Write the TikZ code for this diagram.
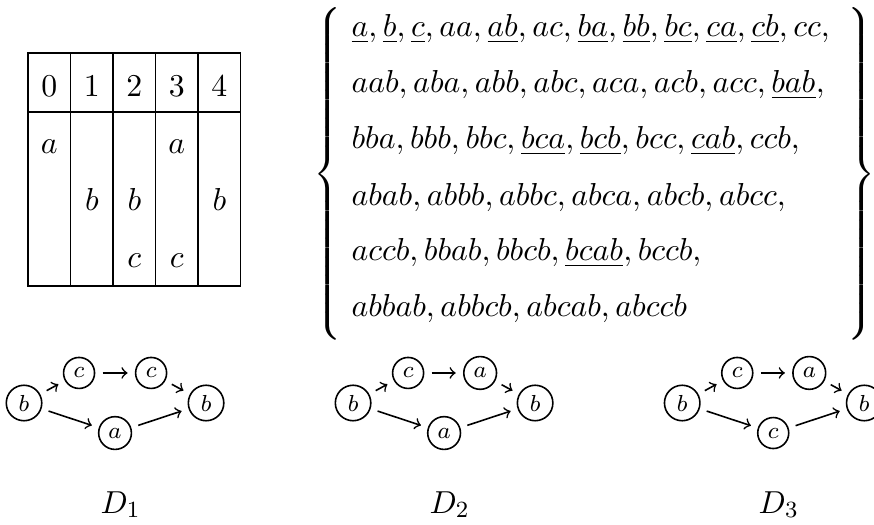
\documentclass[tikz,border=0pt]{standalone}
\usepackage{amsmath}
\thinmuskip=3.25mu

\tikzset{
  vert/.style={circle, draw, inner sep=2pt, font=\footnotesize},
  arc/.style={->, shorten >=2.5pt, shorten <=2.5pt},
  setline/.style={anchor=base west, inner sep=0pt},
  brace/.style={inner sep=0pt, yscale=0.97, transform shape},
}

\begin{document}
\begin{tikzpicture}[font=\fontsize{10.95}{13.6}\selectfont, line width=0.55pt]
  \useasboundingbox (0,0) rectangle (10.59,6.35);

  % positions table
  \draw (0.34,2.885) rectangle (2.915,5.71);
  \draw (0.34,4.99) -- (2.915,4.99);
  \foreach \i in {1,...,4}
    \draw (0.34+0.515*\i,2.885) -- (0.34+0.515*\i,5.71);
  \foreach \i in {0,...,4}
    \node[anchor=base] (h\i) at (0.5975+0.515*\i,5.175) {$\i$};
  \foreach \c/\r/\s in {0/1/a, 1/2/b, 2/2/b, 2/3/c, 3/1/a, 3/3/c, 4/2/b}
    \node[anchor=base] (e\c\r) at (0.5975+0.515*\c,5.175-0.69*\r) {$\s$};

  % the set of words
  \node[brace] (lbr) at (3.99,4.24)
    {$\left\{\vrule height 56pt depth 56pt width 0pt\right.$};
  \node[brace] (rbr) at (10.42,4.24)
    {$\left.\vrule height 56pt depth 56pt width 0pt\right\}$};
  \node[setline] (w1) at (4.25,5.902) {$\underline{a}, \underline{b}, \underline{c}, aa, \underline{ab}, ac, \underline{ba}, \underline{bb}, \underline{bc}, \underline{ca}, \underline{cb}, cc,$};
  \node[setline] (w2) at (4.25,5.224) {$aab, aba, abb, abc, aca, acb, acc, \underline{bab},$};
  \node[setline] (w3) at (4.25,4.545) {$bba, bbb, bbc, \underline{bca}, \underline{bcb}, bcc, \underline{cab}, ccb,$};
  \node[setline] (w4) at (4.25,3.866) {$abab, abbb, abbc, abca, abcb, abcc,$};
  \node[setline] (w5) at (4.25,3.188) {$accb, bbab, bbcb, \underline{bcab}, bccb,$};
  \node[setline] (w6) at (4.25,2.509) {$abbab, abbcb, abcab, abccb$};

  % the three graphs D_1, D_2, D_3
  \foreach \k/\sx/\tl/\bl in {1/0.291/c/a, 2/4.278/a/a, 3/8.266/a/c} {
    \node[vert] (s\k) at (\sx,1.467) {$b$};
    \node[vert] (u\k) at (\sx+0.667,1.831) {$c$};
    \node[vert] (v\k) at (\sx+1.54,1.831) {$\tl$};
    \node[vert] (t\k) at (\sx+2.206,1.467) {$b$};
    \node[vert] (d\k) at (\sx+1.103,1.103) {$\bl$};
    \draw[arc] (s\k) -- (u\k);
    \draw[arc] (u\k) -- (v\k);
    \draw[arc] (v\k) -- (t\k);
    \draw[arc] (s\k) -- (d\k);
    \draw[arc] (d\k) -- (t\k);
    \node[anchor=base] (D\k) at (\sx+1.17,0.133) {$D_\k$};
  }
\end{tikzpicture}
\end{document}
